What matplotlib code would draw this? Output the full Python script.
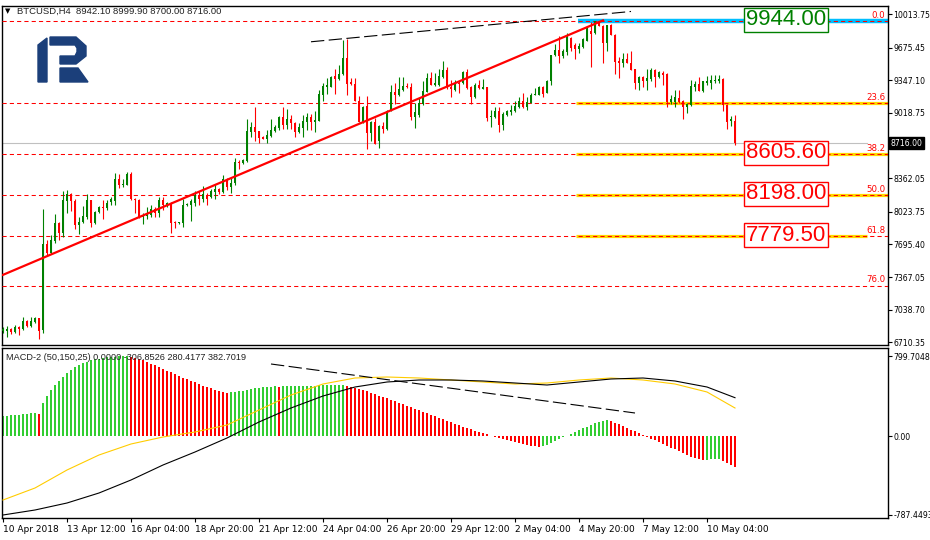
import matplotlib.pyplot as plt
import numpy as np
from matplotlib.patches import Polygon
from matplotlib.transforms import blended_transform_factory

# BTCUSD H4 candles
opens = [6825, 6825, 6845, 6815, 6865, 6845, 6926, 6875, 6916, 6956,
         6835, 7700, 7610, 7731, 7912, 7811, 8133, 8203, 8133, 7891,
         7922, 7972, 8143, 7912, 8022, 8073, 8063, 8123, 8133, 8354,
         8294, 8294, 8405, 8153, 8143, 7972, 7982, 7992, 8052, 8012,
         8143, 8093, 8113, 7922, 7912, 7912, 8093, 8093, 8113, 8193,
         8153, 8193, 8173, 8223, 8254, 8223, 8354, 8274, 8314, 8525,
         8515, 8535, 8827, 8877, 8837, 8777, 8757, 8787, 8837, 8867,
         8980, 8898, 8958, 8918, 8827, 8867, 8928, 8978, 8928, 8938,
         9199, 9280, 9280, 9390, 9360, 9411, 9572, 9330, 9310, 9139,
         8928, 9089, 8817, 8928, 8736, 8887, 8857, 9048, 9229, 9199,
         9250, 9290, 9280, 8978, 8998, 9109, 9229, 9370, 9300, 9300,
         9380, 9451, 9280, 9250, 9320, 9320, 9431, 9280, 9179, 9300,
         9260, 9280, 8978, 8978, 9038, 8898, 8998, 9028, 9038, 9079,
         9139, 9079, 9119, 9199, 9199, 9280, 9219, 9340, 9602, 9652,
         9592, 9632, 9773, 9702, 9662, 9682, 9743, 9843, 9823, 9940,
         9893, 9722, 9903, 9803, 9541, 9521, 9562, 9521, 9461, 9320,
         9380, 9340, 9360, 9451, 9380, 9421, 9411, 9129, 9129, 9169,
         9139, 9079, 9099, 9280, 9310, 9240, 9320, 9320, 9340, 9340,
         9360, 9099, 8938, 8942.1]
highs = [6865, 6875, 6855, 6886, 6875, 6966, 6936, 6966, 6966, 6960,
         8052, 7741, 7791, 8002, 7922, 8234, 8244, 8213, 8153, 7972,
         8083, 8203, 8143, 8030, 8083, 8143, 8143, 8173, 8415, 8405,
         8354, 8425, 8425, 8160, 8153, 8012, 8073, 8093, 8073, 8173,
         8173, 8123, 8120, 7932, 7925, 8153, 8113, 8153, 8234, 8234,
         8284, 8213, 8254, 8304, 8260, 8395, 8360, 8375, 8566, 8545,
         8555, 8958, 8928, 9079, 8840, 8785, 8847, 8958, 8898, 8988,
         9079, 9058, 8998, 8925, 8918, 8998, 9018, 9008, 9038, 9250,
         9320, 9370, 9390, 9461, 9501, 9753, 9763, 9370, 9370, 9189,
         9089, 9189, 8938, 8968, 8898, 8928, 9048, 9300, 9320, 9380,
         9380, 9320, 9320, 9119, 9169, 9340, 9421, 9431, 9421, 9461,
         9541, 9481, 9350, 9350, 9340, 9441, 9461, 9290, 9320, 9350,
         9360, 9285, 9048, 9079, 9079, 9028, 9048, 9099, 9139, 9179,
         9219, 9179, 9219, 9270, 9290, 9290, 9350, 9602, 9712, 9793,
         9662, 9823, 9783, 9722, 9722, 9773, 9893, 9935, 9944, 9942,
         9903, 9903, 9913, 9810, 9582, 9622, 9622, 9642, 9465, 9390,
         9390, 9461, 9471, 9461, 9441, 9441, 9421, 9199, 9250, 9250,
         9149, 9119, 9350, 9340, 9380, 9340, 9390, 9400, 9400, 9400,
         9370, 9109, 8988, 8999.9]
lows = [6805, 6765, 6795, 6805, 6785, 6835, 6865, 6865, 6906, 6745,
        6805, 7580, 7600, 7711, 7741, 7771, 8012, 8032, 7851, 7801,
        7912, 7952, 7871, 7905, 8015, 7952, 8042, 8093, 8093, 8264,
        8274, 8290, 8143, 8012, 7962, 7902, 7952, 7972, 7972, 7972,
        8042, 8073, 7811, 7861, 7902, 7871, 8083, 7932, 8083, 8093,
        8123, 8093, 8165, 8153, 8203, 8213, 8244, 8213, 8294, 8455,
        8505, 8530, 8777, 8736, 8716, 8755, 8716, 8780, 8830, 8850,
        8857, 8857, 8857, 8777, 8817, 8777, 8847, 8847, 8827, 8935,
        9139, 9209, 9275, 9209, 9355, 9400, 9199, 9300, 9139, 8928,
        8920, 8656, 8736, 8706, 8666, 8817, 8847, 9040, 9109, 9190,
        9240, 9270, 8948, 8867, 8978, 9100, 9225, 9300, 9295, 9290,
        9370, 9260, 9179, 9240, 9219, 9310, 9260, 9109, 9169, 9260,
        9255, 8938, 8877, 8968, 8827, 8847, 8988, 8998, 9028, 9068,
        9068, 9048, 9115, 9195, 9195, 9179, 9215, 9300, 9592, 9521,
        9572, 9602, 9642, 9562, 9622, 9672, 9740, 9481, 9813, 9890,
        9521, 9642, 9803, 9411, 9370, 9481, 9521, 9451, 9260, 9250,
        9280, 9250, 9340, 9280, 9370, 9300, 9079, 9109, 9079, 9119,
        8958, 9018, 9089, 9240, 9240, 9229, 9300, 9260, 9320, 9320,
        9038, 8857, 8887, 8700]
closes = [6845, 6845, 6815, 6865, 6845, 6926, 6875, 6926, 6956, 6825,
          7700, 7610, 7741, 7912, 7811, 8143, 8203, 8133, 7891, 7922,
          7982, 8143, 7912, 8022, 8073, 8063, 8113, 8153, 8354, 8294,
          8304, 8405, 8153, 8143, 7972, 7992, 8012, 8052, 8012, 8143,
          8093, 8113, 7912, 7912, 7922, 8093, 8103, 8133, 8193, 8153,
          8203, 8153, 8234, 8254, 8223, 8354, 8274, 8314, 8525, 8520,
          8545, 8837, 8877, 8827, 8767, 8757, 8797, 8847, 8877, 8980,
          8898, 8958, 8918, 8827, 8877, 8938, 8978, 8928, 8948, 9209,
          9290, 9300, 9385, 9360, 9411, 9572, 9310, 9310, 9139, 8928,
          9079, 8817, 8928, 8706, 8887, 8857, 9038, 9229, 9199, 9260,
          9290, 9280, 8978, 9028, 9119, 9240, 9370, 9300, 9320, 9390,
          9451, 9280, 9260, 9320, 9310, 9431, 9270, 9179, 9300, 9270,
          9280, 8968, 8988, 9038, 8898, 9008, 9038, 9048, 9089, 9139,
          9079, 9129, 9199, 9209, 9280, 9209, 9345, 9598, 9652, 9592,
          9642, 9783, 9672, 9662, 9692, 9763, 9883, 9813, 9940, 9893,
          9722, 9903, 9803, 9531, 9521, 9562, 9521, 9451, 9320, 9380,
          9340, 9370, 9451, 9380, 9431, 9400, 9129, 9159, 9179, 9129,
          9079, 9109, 9290, 9310, 9240, 9340, 9340, 9350, 9350, 9360,
          9099, 8928, 8958, 8716]

# MACD-2 (50,150,25) histogram and the two lines
macd_hist = [200, 205, 210, 212, 215, 220, 222, 226, 230, 225,
             330, 400, 460, 510, 555, 595, 630, 660, 690, 712,
             730, 745, 757, 767, 775, 782, 787, 791, 795, 798,
             800, 801, 795, 785, 772, 758, 742, 725, 707, 690,
             672, 655, 637, 620, 602, 585, 568, 552, 536, 520,
             505, 490, 476, 462, 450, 440, 432, 436, 440, 446,
             452, 460, 468, 476, 482, 488, 492, 495, 497, 494,
             496, 498, 499, 500, 501, 502, 503, 504, 505, 506,
             507, 508, 509, 510, 511, 512, 505, 495, 485, 472,
             460, 446, 432, 418, 404, 390, 376, 362, 348, 334,
             320, 305, 290, 275, 260, 245, 230, 215, 200, 185,
             170, 155, 140, 125, 110, 95, 80, 66, 52, 40,
             28, 16, 5, -6, -17, -28, -38, -48, -58, -68,
             -78, -88, -96, -104, -110, -100, -85, -68, -50, -32,
             -14, 4, 22, 40, 58, 76, 94, 110, 126, 140,
             152, 160, 150, 135, 118, 100, 82, 64, 46, 28,
             10, -8, -26, -44, -62, -80, -98, -116, -134, -152,
             -170, -188, -205, -220, -230, -238, -236, -234, -232, -230,
             -250, -270, -290, -307]
line_idx = [0, 8, 16, 24, 32, 40, 48, 56, 64, 72, 80, 88,
            96, 104, 112, 120, 128, 136, 144, 152, 160, 168, 176, 183]
yellow_line = [-640, -520, -340, -190, -80, -10, 40, 110, 260, 410, 520, 580,
               590, 580, 560, 540, 520, 530, 560, 580, 560, 520, 440, 280]
black_line = [-790, -740, -670, -570, -440, -290, -160, -20, 140, 280, 400, 490,
              540, 560, 560, 550, 530, 510, 540, 570, 580, 550, 490, 383]

# Fibonacci grid
fib_high = 9944.0
fib_low = 6440.3
fib_levels = [0.0, 23.6, 38.2, 50.0, 61.8, 76.0]
fib_boxes = {0.0: '9944.00', 38.2: '8605.60', 50.0: '8198.00', 61.8: '7779.50'}

trend_x = [0, 150]
trend_y = [7390, 9950]
black_tl_x = [77, 157]
black_tl_y = [9735, 10040]
macd_tl_x = [67, 158]
macd_tl_y = [720, 230]

price_ticks = [10013.75, 9675.45, 9347.10, 9018.75, 8362.05, 8023.75,
               7695.40, 7367.05, 7038.70, 6710.35]
macd_ticks = [799.7048, 0.0, -787.4493]
date_labels = ['10 Apr 2018', '13 Apr 12:00', '16 Apr 04:00', '18 Apr 20:00',
               '21 Apr 12:00', '24 Apr 04:00', '26 Apr 20:00', '29 Apr 12:00',
               '2 May 04:00', '4 May 20:00', '7 May 12:00', '10 May 04:00']
last_price = 8716.00

W, H = 930, 540
fig = plt.figure(figsize=(W / 100, H / 100), dpi=100)
fig.patch.set_facecolor('white')

ax = fig.add_axes([2 / W, 1 - 345 / H, 886 / W, 339 / H])
ax2 = fig.add_axes([2 / W, 1 - 518 / H, 886 / W, 170 / H])

n = len(closes)
x = np.arange(n)
o = np.array(opens)
c = np.array(closes)
up = c >= o
cols = np.where(up, '#008000', '#ff0000')

ax.vlines(x, lows, highs, colors=cols, lw=0.8, zorder=4)
body_h = np.maximum(np.abs(c - o), 6)
ax.bar(x, body_h, bottom=np.minimum(o, c), width=0.72, color=cols, lw=0, zorder=5)

# fib levels
for lv in fib_levels:
    p = fib_high - (fib_high - fib_low) * lv / 100
    if lv == 0.0:
        ax.plot([143.8, 221.3], [p, p], color='#00bfff', lw=3.2, zorder=2, solid_capstyle='butt')
    elif lv <= 50.0:
        ax.plot([143.2, 221.3], [p, p], color='#ffd700', lw=2.3, zorder=2, solid_capstyle='butt')
    elif lv < 70:
        ax.plot([143.2, 216.0], [p, p], color='#ffd700', lw=2.3, zorder=2, solid_capstyle='butt')
    ax.axhline(p, color='#ff0000', lw=0.75, ls=(0, (4, 3)), zorder=3)
    ax.text(220.6, p + 12, '%.1f' % lv, color='#ff0000', fontsize=6.2, ha='right', va='bottom', zorder=6)
    if lv in fib_boxes:
        col = '#008000' if lv == 0.0 else '#ff0000'
        ax.text(195.8, p + 12, fib_boxes[lv], color=col, fontsize=16, family='Liberation Sans',
                ha='center', va='center', zorder=7,
                bbox=dict(boxstyle='square,pad=0.08', fc='white', ec=col, lw=1))

ax.plot([0, 216], [last_price, last_price], color='#c0c0c0', lw=0.8, zorder=1)
ax.plot(trend_x, trend_y, color='#ff0000', lw=1.6, zorder=6)
ax.plot(black_tl_x, black_tl_y, color='black', lw=0.8, ls=(0, (12, 4)), zorder=6)

ax.set_xlim(-0.25, 221.25)
ax.set_ylim(6684, 10095)
ax.yaxis.tick_right()
ax.set_yticks(price_ticks)
ax.set_yticklabels(['%.2f' % t for t in price_ticks])
ax.set_xticks([])
ax.tick_params(axis='y', direction='out', length=3, width=0.8, labelsize=5.6, pad=1)
for s in ax.spines.values():
    s.set_linewidth(1)

tr = blended_transform_factory(ax.transAxes, ax.transData)
ax.text(1.003, last_price, '%.2f' % last_price, transform=tr, color='white', fontsize=5.6,
        ha='left', va='center', zorder=8, clip_on=False,
        bbox=dict(boxstyle='square,pad=0.15', fc='black', ec='black'))

# MACD panel
hist = np.array(macd_hist)
prev = np.concatenate([[hist[0] - 1], hist[:-1]])
hcols = np.where(hist >= prev, '#32cd32', '#ff0000')
ax2.bar(x, hist, width=0.72, color=hcols, lw=0, zorder=2)
ax2.plot(line_idx, yellow_line, color='#ffcc00', lw=0.8, zorder=3)
ax2.plot(line_idx, black_line, color='black', lw=0.8, zorder=3)
ax2.plot(macd_tl_x, macd_tl_y, color='black', lw=0.8, ls=(0, (12, 4)), zorder=3)
ax2.set_xlim(-0.25, 221.25)
ax2.set_ylim(-820, 880)
ax2.yaxis.tick_right()
ax2.set_yticks(macd_ticks)
ax2.set_yticklabels(['799.7048', '0.00', '-787.4493'])
ax2.set_xticks(np.arange(0, 177, 16))
ax2.set_xticklabels(date_labels, ha='left')
ax2.tick_params(axis='y', direction='out', length=3, width=0.8, labelsize=5.6, pad=1)
ax2.tick_params(axis='x', direction='out', length=3, width=0.8, labelsize=6.5, pad=2)
for s in ax2.spines.values():
    s.set_linewidth(1)

fig.text(5 / W, 1 - 11 / H, '\u25bc', fontsize=5, va='center', color='black')
fig.text(17 / W, 1 - 11 / H, 'BTCUSD,H4  8942.10 8999.90 8700.00 8716.00',
         fontsize=6.8, family='Liberation Sans', va='center', color='#222222')
fig.text(6 / W, 1 - 357 / H, 'MACD-2 (50,150,25) 0.0000 -306.8526 280.4177 382.7019',
         fontsize=6.6, family='Liberation Sans', va='center', color='#222222')

# logo
lg = fig.add_axes([0, 0, 1, 1], zorder=10)
lg.set_xlim(0, W)
lg.set_ylim(H, 0)
lg.axis('off')
navy = '#1b3f7a'
lg.add_patch(Polygon([(38, 45), (47, 38), (47, 82), (38, 82)], color=navy))
lg.add_patch(Polygon([(50, 37), (76, 37), (86, 46), (86, 56), (76, 64), (60, 64),
                      (60, 56), (75, 56), (77, 52), (77, 48), (75, 45), (50, 45)], color=navy))
lg.add_patch(Polygon([(60, 68), (78, 68), (88, 82), (60, 82)], color=navy))

fig.savefig('out.png', dpi=100)
